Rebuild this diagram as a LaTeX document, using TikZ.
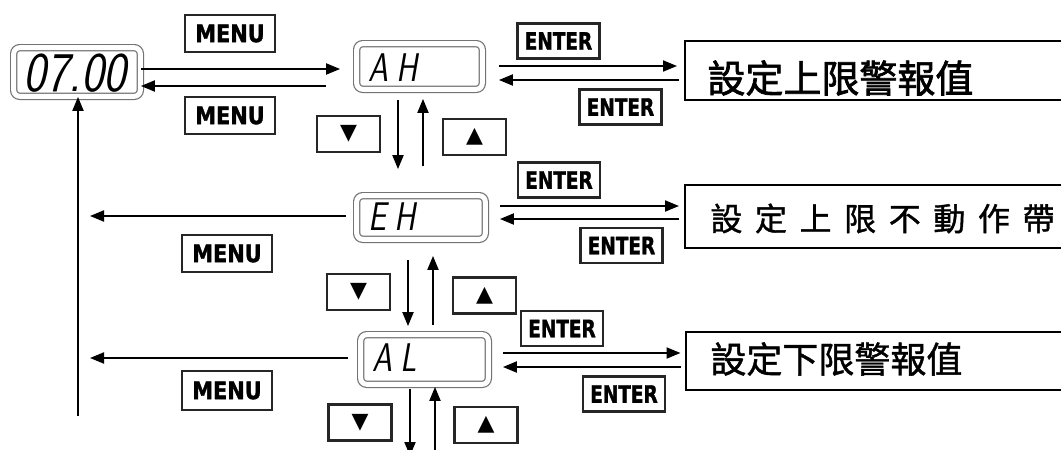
\documentclass[tikz,border=0pt]{standalone}
\usepackage{fontspec}
\usepackage{graphicx}
\usetikzlibrary{arrows.meta}
\newfontfamily\cjk{Noto Sans CJK TC}[FakeBold=1.8]
\newfontfamily\cjkm{Noto Sans CJK TC}[FakeBold=1.2]
\newfontfamily\keyfont{DejaVu Sans}[BoldFeatures={FakeBold=1.6}]
\newfontfamily\symfont{DejaVu Sans}
\begin{document}
\begin{tikzpicture}[x=0.5pt,y=-0.5pt,
  arr/.style={line width=1pt,-{Triangle[length=7pt,width=5.5pt]}},
  key/.style={draw=black!85,line width=1.1pt,inner sep=0pt,minimum width=45pt,minimum height=18.5pt,font=\keyfont\bfseries\fontsize{12}{12}\selectfont},
  ekey/.style={key,minimum width=41pt,minimum height=17.5pt},
  akey/.style={draw=black!85,line width=1.1pt,inner sep=0pt,minimum width=31.5pt,minimum height=18pt,font=\symfont\fontsize{11}{11}\selectfont},
  disp/.style={draw=black!55,line width=0.6pt,double=white,double distance=2.5pt,rounded corners=3pt,inner sep=0pt},
  segtxt/.style={inner sep=0pt,anchor=west,font=\sffamily\slshape\fontsize{20}{20}\selectfont},
  rbox/.style={draw=black,line width=1pt,inner sep=0pt,minimum width=197.5pt},
  ctxt/.style={inner sep=0pt,anchor=west}]
\path[use as bounding box,fill=white] (0,0) rectangle (1061,450);

% displays
\node[disp,minimum width=63.3pt,minimum height=24.3pt] (d0) at (77,72) {};
\node[inner sep=0pt,font=\sffamily\slshape\fontsize{28}{28}\selectfont] (d0t) at (75,73) {\scalebox{0.86}[1]{07.00}};
\node[disp,minimum width=62.8pt,minimum height=22.8pt] (ah) at (419.5,66.5) {};
\node[segtxt] (aht) at (368,68) {\scalebox{0.8}[1]{A\kern5pt H}};
\node[disp,minimum width=64.3pt,minimum height=21.8pt] (eh) at (421,217.5) {};
\node[segtxt] (eht) at (368,217) {\scalebox{0.8}[1]{E\kern5pt H}};
\node[disp,minimum width=63.8pt,minimum height=24.8pt] (al) at (424.5,359.5) {};
\node[segtxt] (alt) at (372,358) {\scalebox{0.8}[1]{A\kern5pt L}};

% right boxes
\node[rbox,minimum height=29.5pt] (b1) at (882.5,70.5) {};
\node[ctxt,font=\cjk\fontsize{19}{19}\selectfont] (b1t) at (707,78) {設定上限警報值};
\node[rbox,minimum height=31.5pt] (b2) at (882.5,216.5) {};
\node[ctxt,font=\cjkm\fontsize{16}{16}\selectfont] (b2t) at (710,218.5) {\spaceskip=6.3pt 設 定 上 限 不 動 作 帶};
\node[rbox,minimum height=29pt] (b3) at (883,361) {};
\node[ctxt,font=\cjkm\fontsize{18}{18}\selectfont] (b3t) at (710,359) {設定下限警報值};

% keys
\node[key] (m1) at (230,33.5) {\scalebox{0.87}[1]{MENU}};
\node[key] (m2) at (230,115.5) {\scalebox{0.87}[1]{MENU}};
\node[key] (m3) at (227,253.5) {\scalebox{0.87}[1]{MENU}};
\node[key,minimum height=19.5pt] (m4) at (227,390.5) {\scalebox{0.87}[1]{MENU}};
\node[ekey] (e1) at (558.5,41) {\scalebox{0.77}[1]{ENTER}};
\node[ekey] (e2) at (620.5,107) {\scalebox{0.77}[1]{ENTER}};
\node[ekey] (e3) at (559,180) {\scalebox{0.77}[1]{ENTER}};
\node[ekey] (e4) at (621.5,245.5) {\scalebox{0.77}[1]{ENTER}};
\node[ekey] (e5) at (562,328.5) {\scalebox{0.77}[1]{ENTER}};
\node[ekey] (e6) at (624,394) {\scalebox{0.77}[1]{ENTER}};
\node[akey] (k1) at (348.5,134) {▼};
\node[akey] (k2) at (474.5,137) {▲};
\node[akey] (k3) at (358.5,292) {▼};
\node[akey] (k4) at (484.5,295.5) {▲};
\node[akey] (k5) at (360,422.5) {▼};
\node[akey] (k6) at (486,425) {▲};

% free ends
\coordinate (le1) at (90,216);
\coordinate (le2) at (90,358);
\coordinate (vb) at (78,416);
\coordinate (dn) at (410,456);
\coordinate (up) at (435,452);

% horizontal arrows
\draw[arr,shorten >=8pt] (d0.east |- 0,69) -- (ah.west |- 0,69);
\draw[arr,shorten <=15pt] (ah.west |- 0,86) -- (d0.east |- 0,86);
\draw[arr,shorten <=8pt,shorten >=3.5pt] (ah.east |- 0,66) -- (b1.west |- 0,66);
\draw[arr,shorten <=2.5pt,shorten >=8pt] (b1.west |- 0,80) -- (ah.east |- 0,80);
\draw[arr,shorten <=7pt,shorten >=2.5pt] (eh.east |- 0,206) -- (b2.west |- 0,206);
\draw[arr,shorten <=2.5pt,shorten >=7pt] (b2.west |- 0,219) -- (eh.east |- 0,219);
\draw[arr,shorten <=7pt,shorten >=2pt] (al.east |- 0,353) -- (b3.west |- 0,353);
\draw[arr,shorten <=2pt,shorten >=7pt] (b3.west |- 0,367) -- (al.east |- 0,367);
\draw[arr,shorten <=5pt] (eh.west |- le1) -- (le1);
\draw[arr,shorten <=6pt] (al.west |- le2) -- (le2);

% vertical arrows
\draw[arr,shorten <=5pt,shorten >=13pt] (ah.south -| 398,0) -- (eh.north -| 398,0);
\draw[arr,shorten <=14.5pt,shorten >=4.5pt] (eh.north -| 423,0) -- (ah.south -| 423,0);
\draw[arr,shorten <=10pt,shorten >=4pt] (eh.south -| 408,0) -- (al.north -| 408,0);
\draw[arr,shorten <=4.5pt,shorten >=8pt] (al.north -| 433,0) -- (eh.south -| 433,0);
\draw[arr,shorten <=2pt] (al.south -| dn) -- (dn);
\draw[arr,shorten >=1pt] (up) -- (al.south -| up);
\draw[arr] (vb) -- (d0.south -| vb);
\end{tikzpicture}
\end{document}
